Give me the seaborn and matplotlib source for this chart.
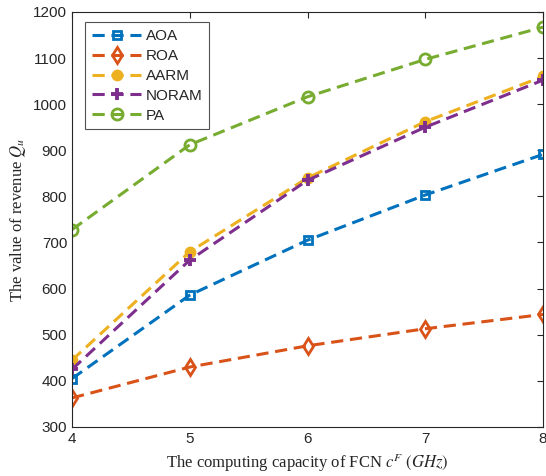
import matplotlib
matplotlib.use("Agg")
import matplotlib.pyplot as plt
import seaborn as sns
import pandas as pd

x_vals = [4, 5, 6, 7, 8]
aoa = [405, 586, 705, 803, 891]
roa = [363, 430, 476, 513, 544]
aarm = [445, 680, 840, 962, 1060]
noram = [425, 662, 835, 950, 1052]
pa = [728, 912, 1016, 1097, 1167]
names = ["AOA", "ROA", "AARM", "NORAM", "PA"]

sns.set_theme(style="white")
plt.rcParams['font.family'] = ['Liberation Sans', 'DejaVu Sans']
plt.rcParams['mathtext.fontset'] = 'stix'

fig = plt.figure(figsize=(5.46, 4.76), dpi=100)
ax = fig.add_axes([0.132, 0.103, 0.8625, 0.872])

series = [aoa, roa, aarm, noram, pa]
colors = ["#0072BD", "#D95319", "#EDB120", "#7E2F8E", "#77AC30"]
markers = ["s", "d", "o", "+", "o"]
mfc = ["none", "none", "#EDB120", "#7E2F8E", "none"]
msz = [6, 8, 7, 8, 8]
mew = [2.0, 2.0, 1.5, 2.8, 2.0]

for name, vals, c, m, fc, ms, ew in zip(names, series, colors, markers, mfc, msz, mew):
    df = pd.DataFrame({"x": x_vals, "y": vals})
    sns.lineplot(data=df, x="x", y="y", ax=ax, color=c, linewidth=2.2,
                 linestyle=(0, (4, 2.2)), marker=m, markersize=ms,
                 markerfacecolor=fc, markeredgecolor=c, markeredgewidth=ew,
                 label=name)

ax.set_xlim(4, 8)
ax.set_ylim(300, 1200)
ax.set_xticks([4, 5, 6, 7, 8])
ax.set_yticks(range(300, 1201, 100))
ax.tick_params(direction='in', top=True, right=True, length=4, labelsize=11,
               colors="#262626", width=0.8)
for s in ax.spines.values():
    s.set_color("#262626")
    s.set_linewidth(0.8)

ax.set_xlabel(r"The computing capacity of FCN $c^F$ $(GHz)$", fontsize=12,
              family='Liberation Serif')
ax.set_ylabel(r"The value of revenue $Q_u$", fontsize=12, family='Liberation Serif')

leg = ax.legend(loc="upper left", bbox_to_anchor=(0.012, 0.993), fontsize=11,
                frameon=True, fancybox=False, edgecolor="#262626",
                handlelength=3.2, labelspacing=0.38, borderpad=0.45,
                handletextpad=0.3)
leg.get_frame().set_linewidth(0.8)

fig.savefig("out.png", dpi=100)
